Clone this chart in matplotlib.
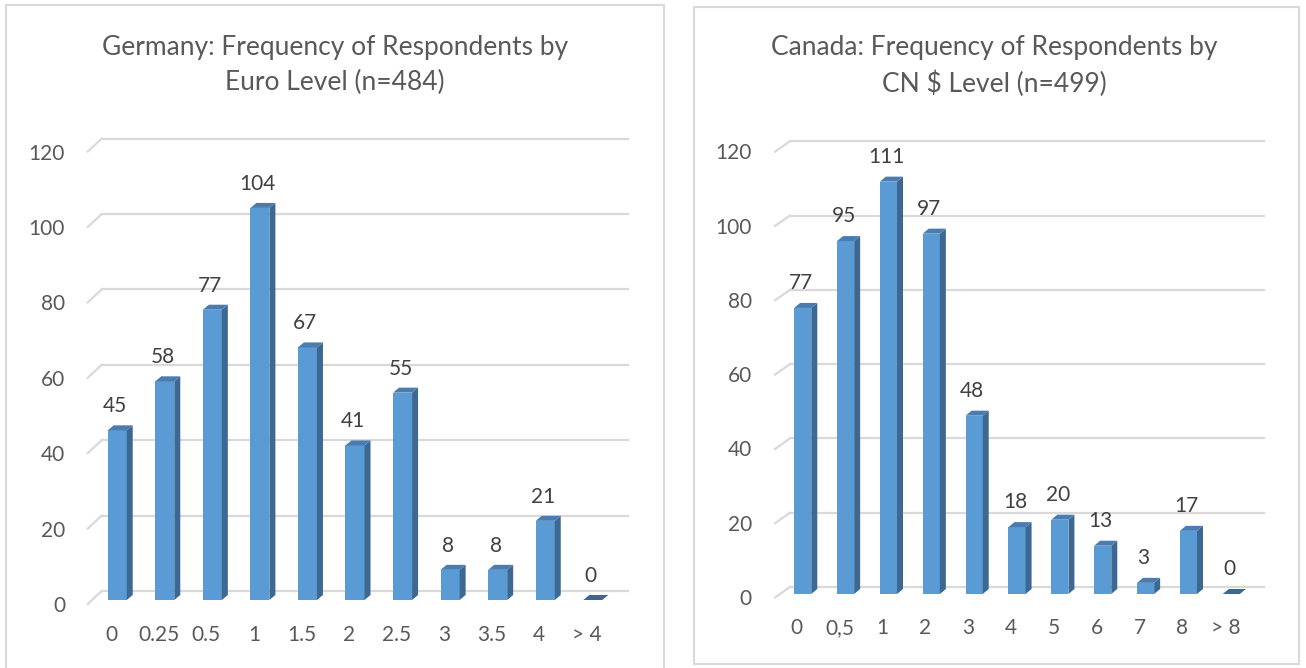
import matplotlib
matplotlib.use('Agg')
import matplotlib.pyplot as plt
from matplotlib.patches import Rectangle, Polygon
from matplotlib.lines import Line2D

W, H = 1306, 668
plt.rcParams['font.family'] = ['Lato', 'DejaVu Sans']

# ---------------- data ----------------
de_title = ["Germany: Frequency of Respondents by", "Euro Level (n=484)"]
de_categories = ['0', '0.25', '0.5', '1', '1.5', '2', '2.5', '3', '3.5', '4', '> 4']
de_values = [45, 58, 77, 104, 67, 41, 55, 8, 8, 21, 0]

ca_title = ["Canada: Frequency of Respondents by", "CN $ Level (n=499)"]
ca_categories = ['0', '0,5', '1', '2', '3', '4', '5', '6', '7', '8', '> 8']
ca_values = [77, 95, 111, 97, 48, 18, 20, 13, 3, 17, 0]

y_ticks = [0, 20, 40, 60, 80, 100, 120]
y_max = 120

# ---------------- style ----------------
FRONT = '#5b9bd5'
SIDE = '#3d6892'
TOP = '#4a7cb0'
GRID = '#d9d9d9'
TXT = '#595959'
VAL = '#404040'
TICK_FS = 15
TITLE_FS = 19

fig = plt.figure(figsize=(W / 100, H / 100), dpi=100)

# panel borders (pixel coords from top-left)
def panel(x0, y0, x1, y1):
    fig.patches.append(Rectangle((x0 / W, 1 - y1 / H), (x1 - x0) / W, (y1 - y0) / H,
                                 transform=fig.transFigure, fill=False,
                                 edgecolor='#d9d9d9', lw=1.5, zorder=0))

panel(6, 5, 664, 680)
panel(694, 7, 1299, 664)


def draw_chart(cfg, cats, vals, title):
    x0p, x1p, basep = cfg['x0'], cfg['x1'], cfg['base']
    ky = cfg['ky']
    topp = basep - y_max * ky
    ax = fig.add_axes([x0p / W, (H - basep) / H, (x1p - x0p) / W, (basep - topp) / H])
    n = len(cats)
    xl = (-0.53, n - 1 + 0.53)
    ax.set_xlim(xl)
    ax.set_ylim(0, y_max)
    ax.axis('off')
    kx = (x1p - x0p) / (xl[1] - xl[0])

    def dx(p):
        return p / kx

    def dy(p):
        return p / ky

    bx, by = cfg['back']
    fx, fy = cfg['front']
    # gridlines (back wall) + floor diagonals
    for v in y_ticks:
        ax.add_line(Line2D([xl[0] + dx(bx), xl[1] + dx(bx)], [v + dy(by), v + dy(by)],
                           color=GRID, lw=1.6, clip_on=False, zorder=1))
        ax.add_line(Line2D([xl[0] + dx(fx), xl[0] + dx(bx)], [v + dy(fy), v + dy(by)],
                           color=GRID, lw=1.6, clip_on=False, zorder=1))
        ax.text(xl[0] + dx(cfg['tick_dx']), v + dy(cfg['tick_dy']), str(v),
                ha='right', va='center', fontsize=TICK_FS, color=TXT)

    w = cfg['bw']
    ddx, ddy = dx(cfg['depth'][0]), dy(cfg['depth'][1])
    for i, (c, v) in enumerate(zip(cats, vals)):
        l, r = i - w / 2, i + w / 2
        if v > 0:
            ax.add_patch(Rectangle((l, 0), w, v, facecolor=FRONT, edgecolor='none',
                                   zorder=3, clip_on=False))
            ax.add_patch(Polygon([(r, 0), (r + ddx, ddy), (r + ddx, v + ddy), (r, v)],
                                 closed=True, facecolor=SIDE, edgecolor='none',
                                 zorder=3, clip_on=False))
        ax.add_patch(Polygon([(l, v), (r, v), (r + ddx, v + ddy), (l + ddx, v + ddy)],
                             closed=True, facecolor=TOP if v > 0 else SIDE,
                             edgecolor='none', zorder=3, clip_on=False))
        ax.text(i + dx(cfg['val_dx']), v + dy(cfg['val_dy']), str(v),
                ha='center', va='center', fontsize=TICK_FS, color=VAL)
        ax.text(i + dx(cfg['cat_dx']), dy(-cfg['cat_dy']), c,
                ha='center', va='center', fontsize=TICK_FS, color=TXT)

    tx, ty1, ty2 = cfg['title']
    fig.text(tx / W, 1 - ty1 / H, title[0], ha='center', va='center',
             fontsize=TITLE_FS, color=TXT)
    fig.text(tx / W, 1 - ty2 / H, title[1], ha='center', va='center',
             fontsize=TITLE_FS, color=TXT)


de_cfg = dict(x0=92, x1=618, base=600, ky=3.77, back=(9.7, 9), front=(-4.3, -4),
              tick_dx=-27, tick_dy=-6, bw=0.40, depth=(6, 5), val_dx=-2, val_dy=24,
              cat_dx=-6, cat_dy=35, title=(335, 47, 82))
ca_cfg = dict(x0=780, x1=1254, base=594, ky=3.715, back=(10, 7), front=(-5, -3.5),
              tick_dx=-28, tick_dy=-5, bw=0.40, depth=(6, 5), val_dx=-2, val_dy=25,
              cat_dx=-6, cat_dy=34, title=(994, 48, 84))

draw_chart(de_cfg, de_categories, de_values, de_title)
draw_chart(ca_cfg, ca_categories, ca_values, ca_title)

fig.savefig('out.png', dpi=100, facecolor='white')
